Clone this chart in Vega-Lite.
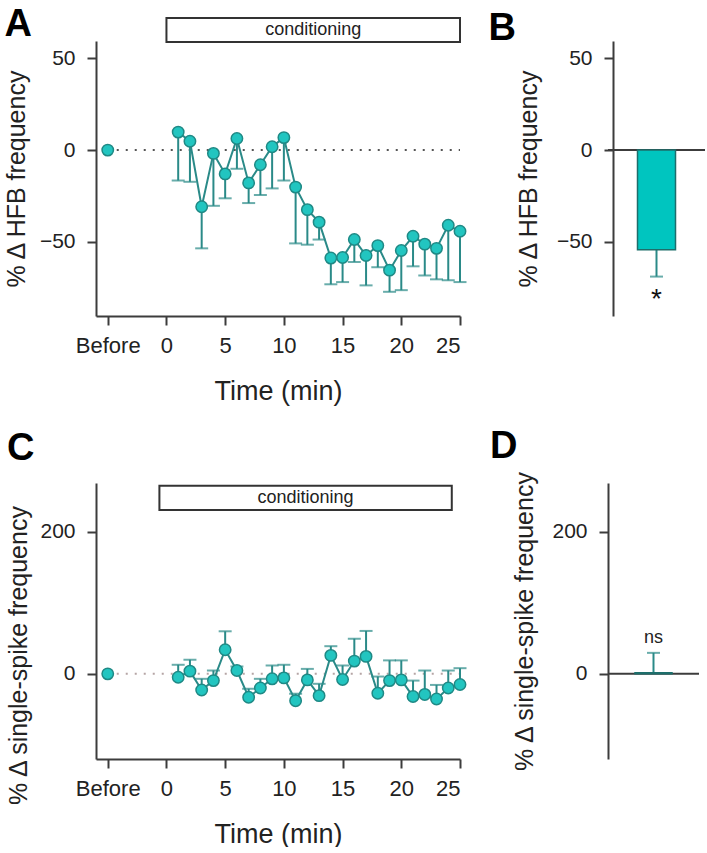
{
  "$schema": "https://vega.github.io/schema/vega-lite/v6.json",
  "padding": {"left": 4, "top": 5, "right": 0, "bottom": 0},
  "background": "white",
  "config": {
    "font": "Liberation Sans",
    "view": {"stroke": null},
    "axis": {
      "domainColor": "#3c3c3c", "domainWidth": 2,
      "tickColor": "#3c3c3c", "tickWidth": 2, "tickSize": 9,
      "labelFontSize": 21, "labelColor": "#222222", "labelPadding": 11,
      "titleFontSize": 25, "titleFontWeight": "normal", "titleColor": "#222222",
      "grid": false
    },
    "axisX": {"labelFontSize": 22, "titleFontSize": 27},
    "title": {"fontSize": 38, "fontWeight": "bold", "anchor": "start", "frame": "bounds", "baseline": "alphabetic", "color": "#000000"}
  },
  "datasets": {
    "hfb": [
      {"t": -5, "v": 0, "lo": 0},
      {"t": 1, "v": 9.8, "lo": -16.6},
      {"t": 2, "v": 4.8, "lo": -17.3},
      {"t": 3, "v": -30.9, "lo": -53.6},
      {"t": 4, "v": -1.8, "lo": -30.4},
      {"t": 5, "v": -13, "lo": -26.3},
      {"t": 6, "v": 6.3, "lo": -10.2},
      {"t": 7, "v": -17.9, "lo": -28.9},
      {"t": 8, "v": -8, "lo": -24.5},
      {"t": 9, "v": 1.8, "lo": -20.9},
      {"t": 10, "v": 6.8, "lo": -16.6},
      {"t": 11, "v": -20.2, "lo": -50.9},
      {"t": 12, "v": -32.5, "lo": -51.6},
      {"t": 13, "v": -39.3, "lo": -48.8},
      {"t": 14, "v": -58.9, "lo": -73.2},
      {"t": 15, "v": -58.6, "lo": -72},
      {"t": 16, "v": -48.8, "lo": -61},
      {"t": 17, "v": -57.5, "lo": -73.8},
      {"t": 18, "v": -52.1, "lo": -63.9},
      {"t": 19, "v": -65.5, "lo": -77.3},
      {"t": 20, "v": -54.8, "lo": -76.4},
      {"t": 21, "v": -47, "lo": -63.4},
      {"t": 22, "v": -51.3, "lo": -68.4},
      {"t": 23, "v": -53.6, "lo": -70.5},
      {"t": 24, "v": -41, "lo": -71},
      {"t": 25, "v": -44.3, "lo": -72}
    ],
    "ss": [
      {"t": -5, "v": 0, "hi": 0},
      {"t": 1, "v": -4.7, "hi": 12.8},
      {"t": 2, "v": 3.8, "hi": 19.9},
      {"t": 3, "v": -22.7, "hi": -7},
      {"t": 4, "v": -9.5, "hi": 4.7},
      {"t": 5, "v": 34, "hi": 60},
      {"t": 6, "v": 4.7, "hi": 10.4},
      {"t": 7, "v": -33, "hi": -21},
      {"t": 8, "v": -20, "hi": -7},
      {"t": 9, "v": -7, "hi": 11.8},
      {"t": 10, "v": -5.7, "hi": 12.8},
      {"t": 11, "v": -37.8, "hi": -28},
      {"t": 12, "v": -8.5, "hi": 7},
      {"t": 13, "v": -30.7, "hi": -14},
      {"t": 14, "v": 26, "hi": 39},
      {"t": 15, "v": -8, "hi": 11.8},
      {"t": 16, "v": 18, "hi": 49.6},
      {"t": 17, "v": 24.6, "hi": 60.5},
      {"t": 18, "v": -27.4, "hi": -3.8},
      {"t": 19, "v": -9.5, "hi": 19},
      {"t": 20, "v": -8.5, "hi": 19},
      {"t": 21, "v": -32, "hi": -9.5},
      {"t": 22, "v": -29, "hi": 4.7},
      {"t": 23, "v": -35.5, "hi": -15.6},
      {"t": 24, "v": -20, "hi": 4.7},
      {"t": 25, "v": -15, "hi": 8}
    ],
    "hfbBar": [{"g": "conditioning", "v": -54.3, "lo": -69, "sig": "*"}],
    "ssBar": [{"g": "conditioning", "v": 1.5, "hi": 29.6, "sig": "ns"}],
    "condA": [{"start": 0, "end": 25, "mid": 12.5, "bottom": 59, "top": 72, "middle": 65.5, "label": "conditioning"}],
    "condC": [{"start": -0.6, "end": 24.3, "mid": 11.85, "bottom": 231, "top": 265, "middle": 248, "label": "conditioning"}],
    "base": [{"from": -5, "to": 25, "level": 0}]
  },
  "columns": 2,
  "bounds": "flush",
  "spacing": {"row": 167, "column": 148},
  "concat": [
    {
      "width": 364, "height": 275,
      "title": {"text": "A", "offset": -26.5},
      "encoding": {
        "x": {"field": "t", "type": "quantitative", "scale": {"domain": [-6, 25], "nice": false, "zero": false},
              "axis": {"values": [-5, 0, 5, 10, 15, 20, 25], "labelExpr": "datum.value == -5 ? 'Before' : datum.label", "title": "Time (min)", "titlePadding": 22, "labelPadding": 10}},
        "y": {"field": "v", "type": "quantitative", "scale": {"domain": [-90.5, 59.5], "nice": false, "zero": false},
              "axis": {"values": [-50, 0, 50], "title": "% Δ HFB frequency", "titlePadding": 10, "labelPadding": 12}}
      },
      "layer": [
        {"data": {"name": "base"}, "mark": {"type": "rule", "strokeDash": [2, 7], "color": "#555555", "strokeWidth": 2},
         "encoding": {"x": {"field": "from", "type": "quantitative"}, "x2": {"field": "to"}, "y": {"field": "level", "type": "quantitative"}}},
        {"data": {"name": "condA"}, "mark": {"type": "rect", "fill": "white", "stroke": "#333333", "strokeWidth": 2},
         "encoding": {"x": {"field": "start", "type": "quantitative"}, "x2": {"field": "end"}, "y": {"field": "top", "type": "quantitative"}, "y2": {"field": "bottom"}}},
        {"data": {"name": "condA"}, "mark": {"type": "text", "fontSize": 18, "color": "#222222"},
         "encoding": {"x": {"field": "mid", "type": "quantitative"}, "y": {"field": "middle", "type": "quantitative"}, "text": {"field": "label"}}},
        {"data": {"name": "hfb"}, "transform": [{"filter": "datum.t >= 0"}], "mark": {"type": "rule", "color": "#2a8a88", "strokeWidth": 2},
         "encoding": {"y2": {"field": "lo"}}},
        {"data": {"name": "hfb"}, "transform": [{"filter": "datum.t >= 0"}], "mark": {"type": "tick", "orient": "horizontal", "color": "#2a8a88", "size": 13, "thickness": 2},
         "encoding": {"y": {"field": "lo", "type": "quantitative"}}},
        {"data": {"name": "hfb"}, "transform": [{"filter": "datum.t >= 0"}], "mark": {"type": "line", "color": "#2a8a88", "strokeWidth": 2}},
        {"data": {"name": "hfb"}, "mark": {"type": "point", "filled": true, "fill": "#22c5c0", "stroke": "#1f8985", "strokeWidth": 1.5, "size": 130, "opacity": 1}}
      ]
    },
    {
      "width": 97, "height": 275,
      "title": {"text": "B", "offset": -6.6, "dx": -28},
      "encoding": {
        "y": {"field": "v", "type": "quantitative", "scale": {"domain": [-90.5, 59.5], "nice": false, "zero": false},
              "axis": {"values": [-50, 0, 50], "title": "% Δ HFB frequency", "offset": -5, "titlePadding": 15, "labelPadding": 12}}
      },
      "layer": [
        {"data": {"name": "base"}, "mark": {"type": "rule", "color": "#3c3c3c", "strokeWidth": 2}, "encoding": {"y": {"field": "level", "type": "quantitative"}}},
        {"data": {"name": "hfbBar"}, "mark": {"type": "rule", "color": "#2a8a88", "strokeWidth": 2},
         "encoding": {"x": {"field": "g", "type": "nominal", "axis": null}, "y2": {"field": "lo"}}},
        {"data": {"name": "hfbBar"}, "mark": {"type": "tick", "orient": "horizontal", "color": "#2a8a88", "size": 13, "thickness": 2},
         "encoding": {"x": {"field": "g", "type": "nominal", "axis": null}, "y": {"field": "lo", "type": "quantitative"}}},
        {"data": {"name": "hfbBar"}, "mark": {"type": "bar", "width": 38, "fill": "#00c5bf", "stroke": "#1d6e6b", "strokeWidth": 1.5},
         "encoding": {"x": {"field": "g", "type": "nominal", "axis": null}}},
        {"data": {"name": "hfbBar"}, "mark": {"type": "text", "fontSize": 28, "baseline": "top", "dy": 9, "color": "#111111"},
         "encoding": {"x": {"field": "g", "type": "nominal", "axis": null}, "y": {"field": "lo", "type": "quantitative"}, "text": {"field": "sig"}}}
      ]
    },
    {
      "width": 364, "height": 276,
      "title": {"text": "C", "offset": 15.4},
      "encoding": {
        "x": {"field": "t", "type": "quantitative", "scale": {"domain": [-6, 25], "nice": false, "zero": false},
              "axis": {"values": [-5, 0, 5, 10, 15, 20, 25], "labelExpr": "datum.value == -5 ? 'Before' : datum.label", "title": "Time (min)", "titlePadding": 22, "labelPadding": 10}},
        "y": {"field": "v", "type": "quantitative", "scale": {"domain": [-120, 269], "nice": false, "zero": false},
              "axis": {"values": [0, 200], "title": "% Δ single-spike frequency", "titlePadding": 8, "labelPadding": 12, "titleY": 172}}
      },
      "layer": [
        {"data": {"name": "base"}, "mark": {"type": "rule", "strokeDash": [2, 7], "color": "#b5a5a5", "strokeWidth": 2},
         "encoding": {"x": {"field": "from", "type": "quantitative"}, "x2": {"field": "to"}, "y": {"field": "level", "type": "quantitative"}}},
        {"data": {"name": "condC"}, "mark": {"type": "rect", "fill": "white", "stroke": "#333333", "strokeWidth": 2},
         "encoding": {"x": {"field": "start", "type": "quantitative"}, "x2": {"field": "end"}, "y": {"field": "top", "type": "quantitative"}, "y2": {"field": "bottom"}}},
        {"data": {"name": "condC"}, "mark": {"type": "text", "fontSize": 18, "color": "#222222"},
         "encoding": {"x": {"field": "mid", "type": "quantitative"}, "y": {"field": "middle", "type": "quantitative"}, "text": {"field": "label"}}},
        {"data": {"name": "ss"}, "transform": [{"filter": "datum.t >= 0"}], "mark": {"type": "rule", "color": "#2a8a88", "strokeWidth": 2},
         "encoding": {"y2": {"field": "hi"}}},
        {"data": {"name": "ss"}, "transform": [{"filter": "datum.t >= 0"}], "mark": {"type": "tick", "orient": "horizontal", "color": "#2a8a88", "size": 13, "thickness": 2},
         "encoding": {"y": {"field": "hi", "type": "quantitative"}}},
        {"data": {"name": "ss"}, "transform": [{"filter": "datum.t >= 0"}], "mark": {"type": "line", "color": "#2a8a88", "strokeWidth": 2}},
        {"data": {"name": "ss"}, "mark": {"type": "point", "filled": true, "fill": "#22c5c0", "stroke": "#1f8985", "strokeWidth": 1.5, "size": 130, "opacity": 1}}
      ]
    },
    {
      "width": 91, "height": 276,
      "title": {"text": "D", "offset": 4.4, "dx": -23},
      "encoding": {
        "y": {"field": "v", "type": "quantitative", "scale": {"domain": [-120, 269], "nice": false, "zero": false},
              "axis": {"values": [0, 200], "title": "% Δ single-spike frequency", "titlePadding": 14, "labelPadding": 12}}
      },
      "layer": [
        {"data": {"name": "base"}, "mark": {"type": "rule", "color": "#3c3c3c", "strokeWidth": 2}, "encoding": {"y": {"field": "level", "type": "quantitative"}}},
        {"data": {"name": "ssBar"}, "mark": {"type": "rule", "color": "#2a8a88", "strokeWidth": 2},
         "encoding": {"x": {"field": "g", "type": "nominal", "axis": null}, "y2": {"field": "hi"}}},
        {"data": {"name": "ssBar"}, "mark": {"type": "tick", "orient": "horizontal", "color": "#2a8a88", "size": 13, "thickness": 2},
         "encoding": {"x": {"field": "g", "type": "nominal", "axis": null}, "y": {"field": "hi", "type": "quantitative"}}},
        {"data": {"name": "ssBar"}, "mark": {"type": "bar", "width": 37, "fill": "#00c5bf", "stroke": "#1d6e6b", "strokeWidth": 1.5},
         "encoding": {"x": {"field": "g", "type": "nominal", "axis": null}}},
        {"data": {"name": "ssBar"}, "mark": {"type": "text", "fontSize": 18, "baseline": "bottom", "dy": -6, "color": "#222222"},
         "encoding": {"x": {"field": "g", "type": "nominal", "axis": null}, "y": {"field": "hi", "type": "quantitative"}, "text": {"field": "sig"}}}
      ]
    }
  ]
}
